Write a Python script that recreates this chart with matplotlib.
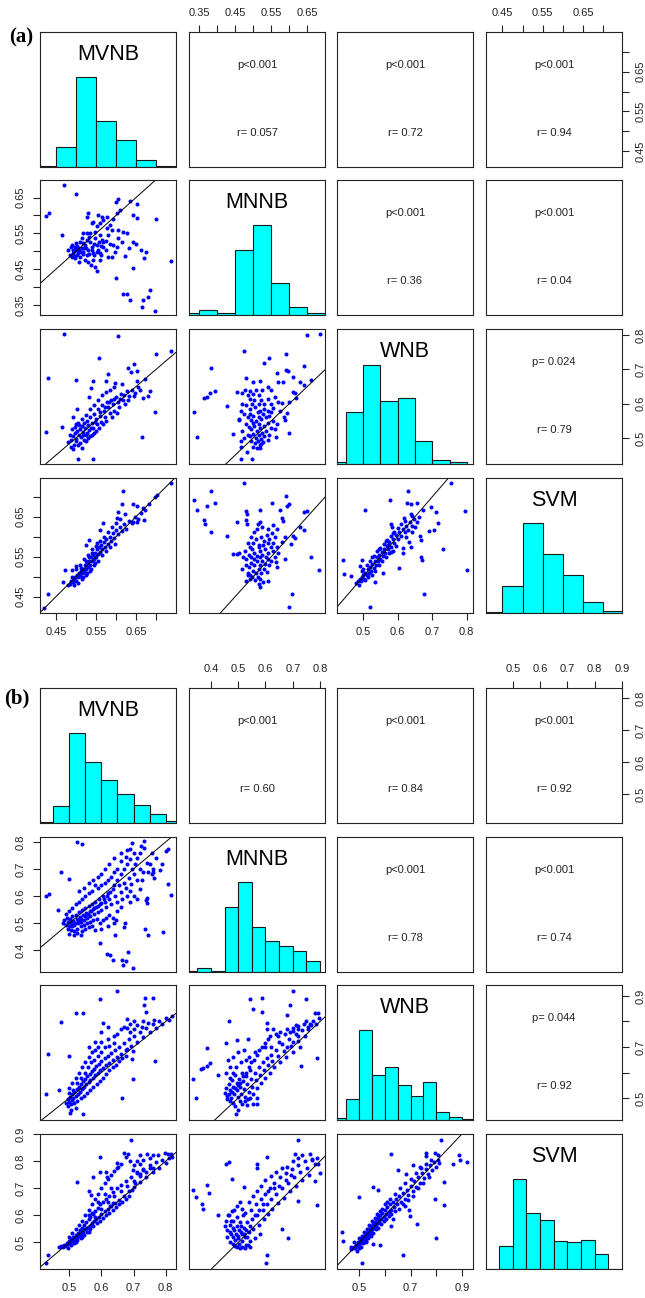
import matplotlib
matplotlib.use('Agg')
import matplotlib.pyplot as plt
import numpy as np

plt.rcParams['font.family'] = ['Liberation Sans', 'DejaVu Sans']

names = ['MVNB', 'MNNB', 'WNB', 'SVM']

#
# panel (a) data
#
a_lims = [(0.41, 0.75), (0.322, 0.699), (0.424, 0.818), (0.409, 0.747)]
a_ticks = [[0.45, 0.50, 0.55, 0.60, 0.65, 0.70],
           [0.35, 0.40, 0.45, 0.50, 0.55, 0.60, 0.65],
           [0.5, 0.6, 0.7, 0.8],
           [0.45, 0.50, 0.55, 0.60, 0.65, 0.70]]
a_ticklabels = [['0.45', '', '0.55', '', '0.65', ''],
                ['0.35', '', '0.45', '', '0.55', '', '0.65'],
                ['0.5', '0.6', '0.7', '0.8'],
                ['0.45', '', '0.55', '', '0.65', '']]

a_mvnb_edges = [0.40, 0.45, 0.50, 0.55, 0.60, 0.65, 0.70, 0.75]
a_mvnb_counts = [2, 28, 125, 64, 38, 10, 2]
a_mnnb_edges = [0.30, 0.35, 0.40, 0.45, 0.50, 0.55, 0.60, 0.65, 0.70]
a_mnnb_counts = [2, 6, 2, 86, 120, 42, 10, 2]
a_wnb_edges = [0.40, 0.45, 0.50, 0.55, 0.60, 0.65, 0.70, 0.75, 0.80]
a_wnb_counts = [2, 67, 127, 81, 84, 29, 5, 3]
a_svm_edges = [0.40, 0.45, 0.50, 0.55, 0.60, 0.65, 0.70, 0.75]
a_svm_counts = [1, 33, 110, 72, 47, 14, 3]
a_hist_head = [1.5, 1.5, 1.36, 1.5]

a_p = {(0, 1): 'p<0.001', (0, 2): 'p<0.001', (0, 3): 'p<0.001',
       (1, 2): 'p<0.001', (1, 3): 'p<0.001', (2, 3): 'p= 0.024'}
a_r = {(0, 1): 'r= 0.057', (0, 2): 'r= 0.72', (0, 3): 'r= 0.94',
       (1, 2): 'r= 0.36', (1, 3): 'r= 0.04', (2, 3): 'r= 0.79'}

# x = MVNB, y = MNNB
a_mvnb_mnnb = [
    (0.471, 0.684), (0.499, 0.659), (0.424, 0.599), (0.432, 0.608), (0.464, 0.545), (0.531, 0.608),
    (0.606, 0.647), (0.599, 0.638), (0.635, 0.641), (0.652, 0.631), (0.602, 0.607), (0.610, 0.615),
    (0.643, 0.601), (0.652, 0.592), (0.700, 0.590), (0.737, 0.474), (0.600, 0.425), (0.618, 0.381),
    (0.628, 0.381), (0.635, 0.365), (0.685, 0.393), (0.681, 0.371), (0.668, 0.363), (0.664, 0.343),
    (0.698, 0.334), (0.642, 0.453), (0.670, 0.482), (0.662, 0.504), (0.674, 0.499), (0.643, 0.527),
    (0.650, 0.520), (0.627, 0.550), (0.618, 0.553), (0.633, 0.508), (0.623, 0.487), (0.606, 0.559),
    (0.606, 0.536), (0.614, 0.527), (0.593, 0.518), (0.602, 0.511), (0.598, 0.499), (0.581, 0.483),
    (0.589, 0.483), (0.560, 0.476), (0.562, 0.490), (0.574, 0.504), (0.568, 0.527), (0.581, 0.545),
    (0.577, 0.564), (0.560, 0.578), (0.568, 0.587), (0.577, 0.596), (0.543, 0.582), (0.552, 0.570),
    (0.481, 0.504), (0.487, 0.511), (0.492, 0.494), (0.495, 0.487), (0.500, 0.504), (0.503, 0.515),
    (0.506, 0.494), (0.510, 0.483), (0.514, 0.508), (0.518, 0.499), (0.523, 0.518), (0.527, 0.490),
    (0.531, 0.504), (0.535, 0.527), (0.539, 0.513), (0.543, 0.494), (0.548, 0.536), (0.552, 0.518),
    (0.556, 0.504), (0.560, 0.545), (0.564, 0.531), (0.514, 0.536), (0.518, 0.552), (0.528, 0.550),
    (0.533, 0.541), (0.510, 0.527), (0.500, 0.522), (0.489, 0.518), (0.485, 0.490), (0.498, 0.481),
    (0.508, 0.471), (0.531, 0.471), (0.537, 0.462), (0.548, 0.457), (0.552, 0.444), (0.543, 0.476),
    (0.523, 0.476), (0.560, 0.494), (0.568, 0.513), (0.548, 0.555), (0.539, 0.578), (0.528, 0.596),
    (0.556, 0.601), (0.564, 0.596), (0.593, 0.589), (0.585, 0.573), (0.589, 0.559), (0.489, 0.483),
    (0.493, 0.504), (0.503, 0.490), (0.517, 0.493), (0.525, 0.508), (0.533, 0.493), (0.540, 0.504),
    (0.552, 0.499), (0.563, 0.515), (0.558, 0.527), (0.527, 0.531), (0.518, 0.522), (0.508, 0.504),
    (0.495, 0.500), (0.505, 0.508), (0.512, 0.498), (0.498, 0.512), (0.520, 0.510), (0.545, 0.520),
    (0.535, 0.550), (0.575, 0.530), (0.585, 0.520), (0.545, 0.490),
]
# x = MVNB, y = WNB
a_mvnb_wnb = [
    (0.471, 0.803), (0.604, 0.799), (0.558, 0.732), (0.700, 0.744), (0.737, 0.755), (0.431, 0.676),
    (0.499, 0.669), (0.424, 0.516), (0.466, 0.531), (0.581, 0.687), (0.542, 0.667), (0.575, 0.667),
    (0.598, 0.659), (0.614, 0.657), (0.631, 0.703), (0.637, 0.692), (0.645, 0.716), (0.652, 0.696),
    (0.653, 0.666), (0.672, 0.672), (0.685, 0.638), (0.681, 0.622), (0.668, 0.616), (0.698, 0.577),
    (0.664, 0.504), (0.504, 0.439), (0.542, 0.438), (0.487, 0.473), (0.492, 0.467), (0.502, 0.584),
    (0.493, 0.560), (0.537, 0.645), (0.533, 0.620),
    (0.492, 0.505), (0.497, 0.515), (0.500, 0.498), (0.503, 0.520), (0.507, 0.510), (0.510, 0.527),
    (0.512, 0.502), (0.515, 0.535), (0.518, 0.518), (0.520, 0.545), (0.523, 0.528), (0.525, 0.510),
    (0.528, 0.550), (0.530, 0.537), (0.533, 0.522), (0.536, 0.560), (0.540, 0.545), (0.543, 0.530),
    (0.546, 0.570), (0.550, 0.555), (0.553, 0.540), (0.556, 0.585), (0.560, 0.565), (0.563, 0.548),
    (0.566, 0.595), (0.570, 0.578), (0.573, 0.560), (0.577, 0.605), (0.580, 0.590), (0.584, 0.572),
    (0.588, 0.612), (0.592, 0.598), (0.596, 0.580), (0.600, 0.620), (0.604, 0.605), (0.608, 0.590),
    (0.612, 0.628), (0.617, 0.612), (0.622, 0.598), (0.627, 0.636), (0.632, 0.622), (0.640, 0.640),
    (0.648, 0.630), (0.655, 0.648), (0.660, 0.640), (0.500, 0.540), (0.505, 0.545), (0.515, 0.555),
    (0.525, 0.568), (0.535, 0.585), (0.545, 0.595), (0.555, 0.610), (0.565, 0.625), (0.575, 0.635),
    (0.585, 0.640), (0.595, 0.650), (0.500, 0.490), (0.510, 0.485), (0.520, 0.495), (0.530, 0.500),
    (0.540, 0.510), (0.550, 0.520), (0.487, 0.495), (0.495, 0.480), (0.505, 0.478), (0.515, 0.470),
    (0.525, 0.490), (0.535, 0.505), (0.545, 0.515), (0.558, 0.530), (0.568, 0.540), (0.480, 0.487),
    (0.485, 0.510), (0.490, 0.525), (0.498, 0.532), (0.508, 0.538), (0.518, 0.508), (0.528, 0.515),
    (0.538, 0.530), (0.548, 0.548), (0.560, 0.575), (0.572, 0.590), (0.582, 0.605), (0.595, 0.615),
    (0.610, 0.615), (0.620, 0.625), (0.630, 0.610), (0.645, 0.622), (0.602, 0.572), (0.590, 0.560),
    (0.575, 0.550),
]
# x = MNNB, y = WNB
a_mnnb_wnb = [
    (0.648, 0.801), (0.684, 0.804), (0.474, 0.755), (0.590, 0.745), (0.544, 0.732), (0.530, 0.718),
    (0.641, 0.710), (0.383, 0.705), (0.336, 0.577), (0.343, 0.502), (0.363, 0.616), (0.372, 0.620),
    (0.381, 0.632), (0.393, 0.638), (0.426, 0.593), (0.454, 0.635), (0.481, 0.674), (0.500, 0.664),
    (0.518, 0.666), (0.567, 0.689), (0.590, 0.699), (0.597, 0.694), (0.609, 0.677), (0.583, 0.664),
    (0.569, 0.664), (0.630, 0.664), (0.641, 0.654), (0.611, 0.635), (0.616, 0.632), (0.600, 0.606),
    (0.659, 0.669), (0.618, 0.618), (0.580, 0.601), (0.594, 0.572), (0.584, 0.562), (0.589, 0.552),
    (0.600, 0.515), (0.563, 0.503), (0.445, 0.513), (0.465, 0.492), (0.465, 0.473), (0.484, 0.460),
    (0.496, 0.438), (0.465, 0.438), (0.519, 0.472), (0.521, 0.481), (0.461, 0.552),
    (0.470, 0.630), (0.478, 0.640), (0.485, 0.625), (0.492, 0.636), (0.500, 0.628), (0.508, 0.640),
    (0.515, 0.625), (0.522, 0.610), (0.530, 0.600), (0.540, 0.615), (0.548, 0.600), (0.556, 0.588),
    (0.470, 0.600), (0.480, 0.595), (0.490, 0.585), (0.498, 0.600), (0.505, 0.590), (0.512, 0.575),
    (0.520, 0.580), (0.528, 0.570), (0.535, 0.560), (0.545, 0.565), (0.555, 0.550), (0.565, 0.540),
    (0.475, 0.570), (0.485, 0.560), (0.493, 0.552), (0.500, 0.565), (0.508, 0.550), (0.515, 0.540),
    (0.522, 0.555), (0.530, 0.535), (0.540, 0.545), (0.550, 0.530), (0.560, 0.525), (0.480, 0.540),
    (0.488, 0.532), (0.495, 0.525), (0.503, 0.535), (0.510, 0.520), (0.518, 0.528), (0.525, 0.515),
    (0.535, 0.520), (0.545, 0.510), (0.485, 0.510), (0.492, 0.505), (0.500, 0.512), (0.507, 0.500),
    (0.515, 0.508), (0.522, 0.498), (0.530, 0.505), (0.540, 0.495), (0.495, 0.490), (0.505, 0.485),
    (0.512, 0.492), (0.520, 0.480), (0.528, 0.488), (0.500, 0.475), (0.510, 0.470), (0.465, 0.580),
    (0.460, 0.555), (0.470, 0.520), (0.475, 0.500), (0.490, 0.615), (0.502, 0.612), (0.515, 0.600),
    (0.525, 0.640), (0.540, 0.650), (0.550, 0.640), (0.560, 0.620), (0.570, 0.605), (0.575, 0.580),
    (0.500, 0.545), (0.490, 0.570), (0.515, 0.560), (0.530, 0.585), (0.540, 0.580), (0.550, 0.575),
]
# x = MVNB, y = SVM
a_mvnb_svm = [
    (0.737, 0.735), (0.431, 0.456), (0.421, 0.421), (0.618, 0.715), (0.467, 0.487), (0.473, 0.517),
    (0.489, 0.517), (0.500, 0.527), (0.525, 0.579), (0.533, 0.592), (0.560, 0.617), (0.567, 0.635),
    (0.606, 0.662), (0.623, 0.658), (0.602, 0.646), (0.614, 0.683), (0.643, 0.681), (0.652, 0.678),
    (0.668, 0.673), (0.673, 0.667), (0.683, 0.683), (0.698, 0.700), (0.702, 0.704), (0.670, 0.643),
    (0.597, 0.583), (0.643, 0.637), (0.652, 0.637),
    (0.480, 0.478), (0.485, 0.482), (0.488, 0.490), (0.492, 0.486), (0.495, 0.495), (0.498, 0.500),
    (0.500, 0.490), (0.503, 0.505), (0.505, 0.498), (0.508, 0.510), (0.510, 0.502), (0.513, 0.515),
    (0.515, 0.508), (0.518, 0.520), (0.520, 0.512), (0.522, 0.528), (0.525, 0.518), (0.528, 0.535),
    (0.530, 0.525), (0.533, 0.540), (0.535, 0.530), (0.538, 0.548), (0.540, 0.538), (0.543, 0.555),
    (0.545, 0.545), (0.548, 0.560), (0.550, 0.550), (0.553, 0.568), (0.555, 0.556), (0.558, 0.575),
    (0.560, 0.562), (0.563, 0.580), (0.566, 0.570), (0.570, 0.588), (0.573, 0.575), (0.576, 0.595),
    (0.580, 0.582), (0.584, 0.600), (0.588, 0.590), (0.592, 0.610), (0.596, 0.598), (0.600, 0.618),
    (0.605, 0.606), (0.610, 0.625), (0.615, 0.615), (0.620, 0.632), (0.625, 0.620), (0.632, 0.640),
    (0.640, 0.635), (0.648, 0.650), (0.655, 0.645), (0.662, 0.660), (0.500, 0.520), (0.510, 0.530),
    (0.520, 0.545), (0.530, 0.555), (0.540, 0.568), (0.550, 0.578), (0.560, 0.590), (0.570, 0.600),
    (0.580, 0.612), (0.590, 0.625), (0.600, 0.635), (0.610, 0.645), (0.495, 0.478), (0.505, 0.485),
    (0.515, 0.495), (0.525, 0.505), (0.535, 0.515), (0.545, 0.530), (0.555, 0.540), (0.565, 0.555),
    (0.575, 0.565), (0.585, 0.575), (0.518, 0.500), (0.528, 0.510), (0.538, 0.520), (0.548, 0.535),
    (0.490, 0.500), (0.512, 0.522), (0.532, 0.548), (0.552, 0.585), (0.540, 0.560), (0.525, 0.540),
]
# x = MNNB, y = SVM
a_mnnb_svm = [
    (0.335, 0.693), (0.343, 0.668), (0.382, 0.715), (0.371, 0.678), (0.394, 0.685), (0.363, 0.643),
    (0.366, 0.631), (0.382, 0.612), (0.426, 0.602), (0.474, 0.735), (0.454, 0.636), (0.481, 0.665),
    (0.483, 0.657), (0.481, 0.642), (0.483, 0.632), (0.590, 0.702), (0.594, 0.677), (0.600, 0.681),
    (0.551, 0.685), (0.520, 0.667), (0.520, 0.636), (0.512, 0.631), (0.574, 0.667), (0.583, 0.639),
    (0.581, 0.646), (0.641, 0.662), (0.648, 0.665), (0.630, 0.625), (0.641, 0.617), (0.611, 0.602),
    (0.616, 0.597), (0.606, 0.583), (0.581, 0.587), (0.588, 0.600), (0.659, 0.550), (0.683, 0.517),
    (0.608, 0.456), (0.600, 0.423), (0.567, 0.523), (0.563, 0.537), (0.588, 0.544), (0.445, 0.557),
    (0.454, 0.557), (0.461, 0.558), (0.479, 0.490), (0.486, 0.504), (0.528, 0.487), (0.542, 0.490),
    (0.519, 0.475), (0.517, 0.482),
    (0.472, 0.550), (0.480, 0.545), (0.488, 0.555), (0.495, 0.548), (0.503, 0.560), (0.510, 0.552),
    (0.518, 0.565), (0.525, 0.555), (0.532, 0.570), (0.540, 0.560), (0.548, 0.575), (0.555, 0.565),
    (0.480, 0.530), (0.488, 0.525), (0.495, 0.535), (0.502, 0.528), (0.510, 0.538), (0.518, 0.530),
    (0.525, 0.540), (0.533, 0.532), (0.542, 0.545), (0.550, 0.540), (0.485, 0.510), (0.492, 0.505),
    (0.500, 0.515), (0.508, 0.508), (0.515, 0.518), (0.522, 0.510), (0.530, 0.520), (0.538, 0.512),
    (0.490, 0.495), (0.498, 0.500), (0.505, 0.492), (0.512, 0.498), (0.520, 0.495), (0.500, 0.585),
    (0.508, 0.595), (0.515, 0.580), (0.522, 0.600), (0.530, 0.590), (0.538, 0.605), (0.545, 0.595),
    (0.552, 0.610), (0.560, 0.600), (0.495, 0.600), (0.502, 0.612), (0.510, 0.620), (0.490, 0.575),
    (0.498, 0.570), (0.515, 0.575), (0.528, 0.580), (0.540, 0.585), (0.555, 0.585), (0.565, 0.575),
    (0.570, 0.560), (0.560, 0.550), (0.545, 0.530), (0.478, 0.565), (0.485, 0.585), (0.470, 0.520),
    (0.503, 0.545), (0.520, 0.548), (0.535, 0.550), (0.525, 0.625), (0.540, 0.620), (0.555, 0.630),
    (0.565, 0.620),
]
# x = WNB, y = SVM
a_wnb_svm = [
    (0.754, 0.735), (0.631, 0.715), (0.578, 0.693), (0.505, 0.668), (0.795, 0.664), (0.801, 0.517),
    (0.730, 0.569), (0.675, 0.456), (0.519, 0.423), (0.441, 0.542), (0.443, 0.507), (0.464, 0.502),
    (0.605, 0.521), (0.557, 0.508), (0.533, 0.487), (0.667, 0.550), (0.669, 0.542), (0.627, 0.685),
    (0.639, 0.681), (0.657, 0.685), (0.674, 0.667), (0.695, 0.675), (0.712, 0.661), (0.718, 0.635),
    (0.690, 0.615), (0.704, 0.617), (0.665, 0.602), (0.666, 0.593), (0.639, 0.658), (0.642, 0.652),
    (0.617, 0.648), (0.581, 0.632), (0.584, 0.625), (0.634, 0.586), (0.637, 0.573), (0.615, 0.571),
    (0.615, 0.558), (0.572, 0.579), (0.581, 0.562), (0.495, 0.542), (0.490, 0.527),
    (0.480, 0.485), (0.485, 0.490), (0.490, 0.495), (0.493, 0.488), (0.497, 0.500), (0.500, 0.505),
    (0.503, 0.495), (0.506, 0.510), (0.510, 0.503), (0.513, 0.518), (0.516, 0.510), (0.520, 0.525),
    (0.523, 0.515), (0.526, 0.532), (0.530, 0.522), (0.533, 0.540), (0.536, 0.530), (0.540, 0.548),
    (0.543, 0.538), (0.546, 0.555), (0.550, 0.545), (0.553, 0.562), (0.557, 0.552), (0.560, 0.570),
    (0.564, 0.560), (0.568, 0.578), (0.572, 0.568), (0.576, 0.586), (0.580, 0.575), (0.585, 0.595),
    (0.590, 0.585), (0.595, 0.605), (0.600, 0.595), (0.605, 0.612), (0.610, 0.603), (0.615, 0.620),
    (0.620, 0.612), (0.625, 0.628), (0.630, 0.618), (0.636, 0.636), (0.642, 0.628), (0.648, 0.645),
    (0.655, 0.638), (0.662, 0.650), (0.500, 0.520), (0.510, 0.530), (0.520, 0.540), (0.530, 0.552),
    (0.540, 0.563), (0.550, 0.572), (0.560, 0.582), (0.570, 0.592), (0.580, 0.602), (0.590, 0.612),
    (0.600, 0.622), (0.610, 0.632), (0.620, 0.640), (0.495, 0.515), (0.515, 0.498), (0.525, 0.505),
    (0.535, 0.515), (0.545, 0.528), (0.555, 0.538), (0.565, 0.548), (0.575, 0.558), (0.585, 0.565),
    (0.595, 0.578), (0.505, 0.492), (0.488, 0.480), (0.525, 0.548), (0.545, 0.570), (0.565, 0.590),
    (0.585, 0.610), (0.625, 0.600), (0.640, 0.612), (0.650, 0.625),
]

#
# panel (b) data
#
b_lims = [(0.409, 0.832), (0.320, 0.818), (0.414, 0.943), (0.402, 0.900)]
b_ticks = [[0.5, 0.6, 0.7, 0.8],
           [0.4, 0.5, 0.6, 0.7, 0.8],
           [0.5, 0.6, 0.7, 0.8, 0.9],
           [0.5, 0.6, 0.7, 0.8, 0.9]]
b_ticklabels = [['0.5', '0.6', '0.7', '0.8'],
                ['0.4', '0.5', '0.6', '0.7', '0.8'],
                ['0.5', '', '0.7', '', '0.9'],
                ['0.5', '0.6', '0.7', '0.8', '0.9']]

b_mvnb_edges = [0.40, 0.45, 0.50, 0.55, 0.60, 0.65, 0.70, 0.75, 0.80, 0.85]
b_mvnb_counts = [2, 28, 150, 102, 72, 48, 30, 15, 3]
b_mnnb_edges = [0.30, 0.35, 0.40, 0.45, 0.50, 0.55, 0.60, 0.65, 0.70, 0.75, 0.80]
b_mnnb_counts = [2, 6, 2, 99, 137, 69, 47, 40, 32, 16]
b_wnb_edges = [0.40, 0.45, 0.50, 0.55, 0.60, 0.65, 0.70, 0.75, 0.80, 0.85, 0.90, 0.95]
b_wnb_counts = [3, 29, 127, 63, 75, 49, 34, 53, 11, 4, 1]
b_svm_edges = [0.40, 0.45, 0.50, 0.55, 0.60, 0.65, 0.70, 0.75, 0.80, 0.85, 0.90]
b_svm_counts = [0, 33, 128, 80, 69, 40, 39, 41, 21, 0]
b_hist_head = [1.5, 1.5, 1.5, 1.5]

b_p = {(0, 1): 'p<0.001', (0, 2): 'p<0.001', (0, 3): 'p<0.001',
       (1, 2): 'p<0.001', (1, 3): 'p<0.001', (2, 3): 'p= 0.044'}
b_r = {(0, 1): 'r= 0.60', (0, 2): 'r= 0.84', (0, 3): 'r= 0.92',
       (1, 2): 'r= 0.78', (1, 3): 'r= 0.74', (2, 3): 'r= 0.92'}

# x = MVNB, y = MNNB
b_mvnb_mnnb = [
    (0.523, 0.798), (0.541, 0.791), (0.427, 0.599), (0.437, 0.609), (0.473, 0.688), (0.500, 0.663),
    (0.466, 0.549), (0.596, 0.427), (0.616, 0.385), (0.627, 0.384), (0.635, 0.365), (0.668, 0.344),
    (0.676, 0.360), (0.683, 0.394), (0.663, 0.363), (0.697, 0.335), (0.642, 0.456), (0.673, 0.502),
    (0.670, 0.487), (0.736, 0.477), (0.746, 0.456), (0.793, 0.468), (0.815, 0.605), (0.808, 0.646),
    (0.801, 0.766), (0.806, 0.772), (0.788, 0.717), (0.783, 0.698), (0.732, 0.804), (0.722, 0.785),
    (0.731, 0.776), (0.694, 0.795), (0.689, 0.773), (0.756, 0.760), (0.741, 0.723), (0.762, 0.688),
    (0.764, 0.667), (0.756, 0.680), (0.710, 0.589), (0.720, 0.626), (0.725, 0.661), (0.741, 0.593),
    (0.738, 0.586), (0.741, 0.574),
    (0.480, 0.500), (0.485, 0.510), (0.490, 0.495), (0.493, 0.520), (0.497, 0.505), (0.500, 0.490),
    (0.503, 0.515), (0.506, 0.500), (0.510, 0.525), (0.513, 0.508), (0.516, 0.492), (0.520, 0.530),
    (0.523, 0.515), (0.526, 0.500), (0.530, 0.540), (0.533, 0.522), (0.536, 0.505), (0.540, 0.548),
    (0.543, 0.530), (0.546, 0.512), (0.550, 0.555), (0.553, 0.538), (0.556, 0.520), (0.560, 0.562),
    (0.563, 0.545), (0.566, 0.528), (0.570, 0.570), (0.573, 0.552), (0.577, 0.535), (0.580, 0.580),
    (0.584, 0.560), (0.588, 0.542), (0.592, 0.590), (0.596, 0.570), (0.600, 0.550), (0.605, 0.600),
    (0.610, 0.580), (0.615, 0.560), (0.620, 0.610), (0.625, 0.590), (0.630, 0.570), (0.636, 0.625),
    (0.642, 0.600), (0.648, 0.580), (0.655, 0.640), (0.662, 0.615), (0.670, 0.650), (0.678, 0.630),
    (0.685, 0.665), (0.692, 0.645), (0.700, 0.680), (0.710, 0.660), (0.720, 0.700), (0.730, 0.690),
    (0.705, 0.720), (0.690, 0.735), (0.675, 0.745), (0.660, 0.730), (0.650, 0.700), (0.640, 0.690),
    (0.630, 0.670), (0.620, 0.660), (0.610, 0.650), (0.600, 0.640), (0.590, 0.630), (0.580, 0.640),
    (0.570, 0.620), (0.560, 0.610), (0.550, 0.600), (0.540, 0.590), (0.530, 0.580), (0.520, 0.570),
    (0.510, 0.555), (0.500, 0.545), (0.490, 0.535), (0.495, 0.480), (0.505, 0.475), (0.515, 0.470),
    (0.525, 0.480), (0.535, 0.490), (0.545, 0.495), (0.555, 0.500), (0.565, 0.505), (0.575, 0.510),
    (0.585, 0.515), (0.595, 0.500), (0.605, 0.510), (0.615, 0.520), (0.625, 0.530), (0.635, 0.520),
    (0.645, 0.510), (0.540, 0.470), (0.550, 0.480), (0.560, 0.485), (0.570, 0.490), (0.580, 0.475),
    (0.600, 0.480), (0.620, 0.490), (0.640, 0.500), (0.525, 0.465), (0.535, 0.455), (0.515, 0.455),
    (0.498, 0.462), (0.508, 0.488), (0.518, 0.500), (0.528, 0.510), (0.538, 0.515), (0.548, 0.525),
    (0.558, 0.535), (0.568, 0.545), (0.578, 0.555), (0.588, 0.565), (0.598, 0.575), (0.608, 0.590),
    (0.618, 0.600), (0.628, 0.615), (0.638, 0.640), (0.650, 0.660), (0.660, 0.680), (0.670, 0.700),
    (0.680, 0.720), (0.695, 0.700), (0.710, 0.740), (0.720, 0.760), (0.700, 0.760), (0.680, 0.770),
    (0.660, 0.760), (0.640, 0.740), (0.625, 0.720), (0.610, 0.700), (0.600, 0.680), (0.590, 0.670),
    (0.575, 0.660), (0.560, 0.650), (0.545, 0.630), (0.530, 0.620), (0.700, 0.600), (0.690, 0.580),
    (0.680, 0.600), (0.665, 0.590), (0.660, 0.560), (0.650, 0.545), (0.690, 0.620), (0.745, 0.690),
    (0.760, 0.700), (0.770, 0.740), (0.750, 0.720),
]
# x = MVNB, y = WNB
b_mvnb_wnb = [
    (0.647, 0.921), (0.596, 0.888), (0.521, 0.833), (0.544, 0.833), (0.473, 0.798), (0.433, 0.672),
    (0.500, 0.663), (0.427, 0.515), (0.468, 0.530), (0.736, 0.891), (0.762, 0.891), (0.731, 0.866),
    (0.738, 0.836), (0.606, 0.795), (0.663, 0.500), (0.697, 0.575), (0.767, 0.646), (0.502, 0.440),
    (0.542, 0.437), (0.694, 0.653), (0.699, 0.685), (0.679, 0.691),
    (0.490, 0.480), (0.495, 0.495), (0.500, 0.485), (0.503, 0.505), (0.507, 0.492), (0.510, 0.515),
    (0.513, 0.500), (0.516, 0.525), (0.520, 0.508), (0.523, 0.535), (0.526, 0.515), (0.530, 0.545),
    (0.533, 0.525), (0.536, 0.555), (0.540, 0.535), (0.543, 0.565), (0.546, 0.545), (0.550, 0.575),
    (0.553, 0.555), (0.556, 0.585), (0.560, 0.562), (0.563, 0.595), (0.566, 0.572), (0.570, 0.605),
    (0.573, 0.580), (0.577, 0.615), (0.580, 0.590), (0.584, 0.625), (0.588, 0.598), (0.592, 0.635),
    (0.596, 0.608), (0.600, 0.645), (0.605, 0.618), (0.610, 0.655), (0.615, 0.628), (0.620, 0.665),
    (0.625, 0.638), (0.630, 0.675), (0.636, 0.648), (0.642, 0.690), (0.648, 0.660), (0.655, 0.700),
    (0.662, 0.672), (0.670, 0.715), (0.678, 0.690), (0.685, 0.730), (0.692, 0.705), (0.700, 0.745),
    (0.710, 0.720), (0.720, 0.760), (0.730, 0.740), (0.740, 0.775), (0.750, 0.760), (0.760, 0.790),
    (0.770, 0.775), (0.780, 0.800), (0.790, 0.790), (0.800, 0.815), (0.810, 0.805), (0.820, 0.820),
    (0.660, 0.770), (0.670, 0.780), (0.680, 0.775), (0.690, 0.790), (0.700, 0.770), (0.710, 0.785),
    (0.650, 0.750), (0.640, 0.745), (0.620, 0.730), (0.600, 0.720), (0.590, 0.700), (0.580, 0.690),
    (0.570, 0.680), (0.560, 0.660), (0.550, 0.640), (0.540, 0.620), (0.530, 0.600), (0.520, 0.580),
    (0.510, 0.560), (0.500, 0.540), (0.495, 0.470), (0.505, 0.475), (0.515, 0.480), (0.525, 0.490),
    (0.535, 0.500), (0.545, 0.510), (0.555, 0.520), (0.565, 0.530), (0.575, 0.545), (0.585, 0.555),
    (0.595, 0.565), (0.605, 0.580), (0.615, 0.595), (0.625, 0.610), (0.635, 0.620), (0.645, 0.630),
    (0.655, 0.645), (0.665, 0.655), (0.675, 0.665), (0.505, 0.455), (0.520, 0.462), (0.500, 0.520),
    (0.512, 0.530), (0.525, 0.560), (0.538, 0.580), (0.548, 0.600), (0.558, 0.620), (0.568, 0.640),
    (0.578, 0.650), (0.588, 0.665), (0.600, 0.680), (0.612, 0.700), (0.625, 0.705), (0.640, 0.715),
    (0.690, 0.760), (0.730, 0.800), (0.725, 0.780), (0.745, 0.795), (0.765, 0.805), (0.700, 0.800),
    (0.680, 0.810), (0.620, 0.780), (0.580, 0.720), (0.560, 0.700), (0.600, 0.760),
]
# x = MNNB, y = WNB
b_mnnb_wnb = [
    (0.543, 0.888), (0.586, 0.891), (0.700, 0.921), (0.690, 0.866), (0.680, 0.827), (0.749, 0.888),
    (0.468, 0.801), (0.586, 0.836), (0.336, 0.575), (0.346, 0.500), (0.364, 0.614), (0.373, 0.618),
    (0.387, 0.627), (0.397, 0.636), (0.385, 0.698), (0.427, 0.591), (0.456, 0.715), (0.497, 0.728),
    (0.537, 0.730), (0.553, 0.849), (0.790, 0.655), (0.730, 0.624), (0.782, 0.833), (0.794, 0.833),
    (0.605, 0.795), (0.605, 0.771), (0.629, 0.769), (0.647, 0.743), (0.678, 0.769), (0.702, 0.763),
    (0.712, 0.788), (0.720, 0.782), (0.763, 0.792), (0.757, 0.780), (0.492, 0.436), (0.498, 0.453),
    (0.534, 0.472), (0.556, 0.478), (0.568, 0.478), (0.570, 0.500),
    (0.450, 0.520), (0.455, 0.540), (0.460, 0.510), (0.465, 0.555), (0.470, 0.530), (0.475, 0.500),
    (0.478, 0.570), (0.482, 0.545), (0.486, 0.515), (0.490, 0.590), (0.494, 0.560), (0.497, 0.530),
    (0.500, 0.505), (0.503, 0.575), (0.507, 0.545), (0.510, 0.515), (0.514, 0.600), (0.518, 0.565),
    (0.522, 0.535), (0.526, 0.505), (0.530, 0.585), (0.534, 0.555), (0.538, 0.525), (0.542, 0.610),
    (0.546, 0.575), (0.550, 0.545), (0.555, 0.515), (0.560, 0.600), (0.565, 0.570), (0.570, 0.540),
    (0.575, 0.620), (0.580, 0.590), (0.585, 0.560), (0.590, 0.640), (0.595, 0.610), (0.600, 0.580),
    (0.605, 0.655), (0.610, 0.630), (0.615, 0.600), (0.620, 0.670), (0.625, 0.645), (0.630, 0.620),
    (0.638, 0.690), (0.645, 0.665), (0.652, 0.640), (0.660, 0.710), (0.668, 0.685), (0.675, 0.660),
    (0.685, 0.730), (0.692, 0.705), (0.700, 0.680), (0.710, 0.750), (0.718, 0.725), (0.725, 0.700),
    (0.735, 0.765), (0.745, 0.745), (0.755, 0.770), (0.765, 0.785), (0.775, 0.800), (0.785, 0.790),
    (0.795, 0.815), (0.470, 0.490), (0.480, 0.480), (0.490, 0.470), (0.505, 0.488), (0.515, 0.478),
    (0.525, 0.490), (0.535, 0.495), (0.545, 0.500), (0.460, 0.495), (0.468, 0.515), (0.478, 0.525),
    (0.488, 0.540), (0.498, 0.550), (0.508, 0.560), (0.518, 0.585), (0.528, 0.600), (0.538, 0.620),
    (0.548, 0.640), (0.558, 0.650), (0.568, 0.670), (0.578, 0.690), (0.588, 0.700), (0.598, 0.715),
    (0.608, 0.730), (0.618, 0.745), (0.640, 0.750), (0.655, 0.760), (0.670, 0.750), (0.690, 0.760),
    (0.700, 0.775), (0.720, 0.770), (0.740, 0.790), (0.750, 0.800), (0.540, 0.660), (0.560, 0.680),
    (0.600, 0.700), (0.620, 0.700), (0.650, 0.720), (0.680, 0.700), (0.700, 0.720), (0.720, 0.745),
    (0.480, 0.600), (0.470, 0.580), (0.492, 0.620), (0.510, 0.640), (0.530, 0.650), (0.462, 0.650),
    (0.482, 0.660), (0.500, 0.680), (0.520, 0.690), (0.470, 0.620), (0.455, 0.600),
]
# x = MVNB, y = SVM
b_mvnb_svm = [
    (0.692, 0.878), (0.596, 0.815), (0.523, 0.722), (0.427, 0.425), (0.433, 0.455), (0.469, 0.485),
    (0.473, 0.487), (0.670, 0.830), (0.684, 0.827), (0.677, 0.815), (0.647, 0.793), (0.653, 0.779),
    (0.614, 0.761), (0.616, 0.742), (0.573, 0.740), (0.596, 0.761), (0.560, 0.690), (0.567, 0.676),
    (0.720, 0.821), (0.741, 0.827), (0.762, 0.821), (0.777, 0.821), (0.798, 0.830), (0.808, 0.825),
    (0.815, 0.827), (0.699, 0.767), (0.710, 0.761), (0.720, 0.752), (0.730, 0.767), (0.751, 0.773),
    (0.694, 0.694), (0.704, 0.718), (0.637, 0.645), (0.627, 0.633),
    (0.480, 0.485), (0.485, 0.492), (0.490, 0.488), (0.493, 0.498), (0.497, 0.495), (0.500, 0.505),
    (0.503, 0.500), (0.506, 0.512), (0.510, 0.505), (0.513, 0.520), (0.516, 0.512), (0.520, 0.528),
    (0.523, 0.518), (0.526, 0.535), (0.530, 0.525), (0.533, 0.545), (0.536, 0.532), (0.540, 0.555),
    (0.543, 0.540), (0.546, 0.565), (0.550, 0.548), (0.553, 0.575), (0.556, 0.555), (0.560, 0.585),
    (0.563, 0.562), (0.566, 0.595), (0.570, 0.570), (0.573, 0.605), (0.577, 0.578), (0.580, 0.615),
    (0.584, 0.585), (0.588, 0.628), (0.592, 0.595), (0.596, 0.640), (0.600, 0.605), (0.605, 0.650),
    (0.610, 0.615), (0.615, 0.660), (0.620, 0.625), (0.625, 0.672), (0.630, 0.635), (0.636, 0.685),
    (0.642, 0.645), (0.648, 0.700), (0.655, 0.658), (0.662, 0.712), (0.670, 0.672), (0.678, 0.725),
    (0.685, 0.688), (0.692, 0.740), (0.700, 0.705), (0.710, 0.755), (0.720, 0.722), (0.730, 0.770),
    (0.740, 0.740), (0.750, 0.785), (0.760, 0.758), (0.770, 0.795), (0.780, 0.775), (0.790, 0.805),
    (0.800, 0.792), (0.810, 0.810), (0.820, 0.815), (0.500, 0.520), (0.510, 0.535), (0.520, 0.550),
    (0.530, 0.565), (0.540, 0.580), (0.550, 0.600), (0.560, 0.620), (0.570, 0.640), (0.580, 0.660),
    (0.590, 0.680), (0.600, 0.700), (0.610, 0.720), (0.620, 0.735), (0.630, 0.750), (0.640, 0.765),
    (0.650, 0.775), (0.660, 0.790), (0.690, 0.800), (0.710, 0.800), (0.730, 0.805), (0.750, 0.810),
    (0.700, 0.785), (0.720, 0.790), (0.495, 0.480), (0.505, 0.490), (0.515, 0.498), (0.525, 0.508),
    (0.535, 0.518), (0.545, 0.528), (0.555, 0.538), (0.565, 0.548), (0.575, 0.560), (0.585, 0.570),
    (0.595, 0.580), (0.605, 0.590), (0.615, 0.600), (0.625, 0.610), (0.635, 0.620), (0.645, 0.630),
    (0.655, 0.640), (0.665, 0.650), (0.675, 0.660), (0.685, 0.670), (0.520, 0.500), (0.540, 0.520),
    (0.560, 0.540), (0.580, 0.595), (0.600, 0.625), (0.620, 0.650), (0.640, 0.670), (0.660, 0.690),
    (0.680, 0.710), (0.700, 0.725), (0.720, 0.745), (0.740, 0.760), (0.760, 0.775), (0.560, 0.600),
    (0.570, 0.610), (0.590, 0.650), (0.610, 0.680), (0.630, 0.700),
]
# x = MNNB, y = SVM
b_mnnb_svm = [
    (0.718, 0.878), (0.605, 0.815), (0.456, 0.791), (0.468, 0.797), (0.476, 0.733), (0.336, 0.694),
    (0.346, 0.667), (0.366, 0.643), (0.373, 0.624), (0.387, 0.712), (0.394, 0.684), (0.427, 0.600),
    (0.521, 0.706), (0.568, 0.788), (0.570, 0.773), (0.782, 0.728), (0.788, 0.639), (0.720, 0.652),
    (0.659, 0.548), (0.684, 0.518), (0.605, 0.455), (0.601, 0.424), (0.708, 0.827), (0.733, 0.821),
    (0.763, 0.827), (0.769, 0.809), (0.794, 0.788), (0.800, 0.757),
    (0.450, 0.560), (0.455, 0.580), (0.460, 0.545), (0.465, 0.600), (0.470, 0.565), (0.475, 0.530),
    (0.478, 0.615), (0.482, 0.580), (0.486, 0.545), (0.490, 0.510), (0.494, 0.595), (0.497, 0.560),
    (0.500, 0.525), (0.503, 0.495), (0.507, 0.575), (0.510, 0.540), (0.514, 0.505), (0.518, 0.600),
    (0.522, 0.555), (0.526, 0.520), (0.530, 0.490), (0.534, 0.575), (0.538, 0.540), (0.542, 0.505),
    (0.546, 0.620), (0.550, 0.585), (0.555, 0.550), (0.560, 0.515), (0.565, 0.640), (0.570, 0.600),
    (0.575, 0.565), (0.580, 0.530), (0.585, 0.660), (0.590, 0.620), (0.595, 0.585), (0.600, 0.680),
    (0.605, 0.640), (0.610, 0.605), (0.615, 0.700), (0.620, 0.660), (0.625, 0.625), (0.632, 0.720),
    (0.638, 0.680), (0.645, 0.645), (0.652, 0.740), (0.660, 0.700), (0.668, 0.665), (0.675, 0.755),
    (0.683, 0.720), (0.690, 0.690), (0.698, 0.770), (0.705, 0.740), (0.712, 0.710), (0.720, 0.785),
    (0.728, 0.760), (0.735, 0.730), (0.745, 0.800), (0.752, 0.775), (0.760, 0.750), (0.770, 0.805),
    (0.780, 0.790), (0.790, 0.810), (0.470, 0.500), (0.480, 0.495), (0.488, 0.488), (0.495, 0.482),
    (0.505, 0.478), (0.515, 0.485), (0.525, 0.480), (0.535, 0.490), (0.545, 0.485), (0.460, 0.520),
    (0.470, 0.540), (0.480, 0.555), (0.492, 0.530), (0.502, 0.545), (0.512, 0.560), (0.522, 0.530),
    (0.532, 0.520), (0.485, 0.620), (0.495, 0.635), (0.505, 0.650), (0.515, 0.625), (0.525, 0.610),
    (0.540, 0.650), (0.555, 0.670), (0.570, 0.690), (0.585, 0.710), (0.600, 0.730), (0.620, 0.745),
    (0.640, 0.760), (0.660, 0.775), (0.680, 0.780), (0.700, 0.800), (0.720, 0.810), (0.560, 0.600),
    (0.575, 0.620), (0.590, 0.640), (0.545, 0.560), (0.530, 0.545), (0.515, 0.530), (0.498, 0.515),
    (0.482, 0.520), (0.472, 0.580), (0.462, 0.600), (0.608, 0.690), (0.630, 0.700), (0.650, 0.710),
    (0.675, 0.730), (0.695, 0.750),
]
# x = WNB, y = SVM
b_wnb_svm = [
    (0.820, 0.878), (0.623, 0.825), (0.651, 0.769), (0.684, 0.752), (0.554, 0.704), (0.574, 0.694),
    (0.500, 0.666), (0.832, 0.722), (0.829, 0.637), (0.794, 0.661), (0.798, 0.518), (0.726, 0.569),
    (0.671, 0.455), (0.513, 0.424), (0.435, 0.540), (0.438, 0.506), (0.468, 0.485), (0.888, 0.821),
    (0.891, 0.805), (0.920, 0.797), (0.865, 0.788), (0.759, 0.830), (0.761, 0.818), (0.794, 0.830),
    (0.807, 0.824), (0.710, 0.785), (0.738, 0.779), (0.677, 0.633), (0.694, 0.621), (0.697, 0.597),
    (0.632, 0.587), (0.625, 0.561), (0.580, 0.490), (0.554, 0.494), (0.528, 0.500),
    (0.470, 0.475), (0.475, 0.480), (0.480, 0.485), (0.484, 0.478), (0.488, 0.492), (0.492, 0.488),
    (0.495, 0.500), (0.498, 0.494), (0.502, 0.505), (0.505, 0.498), (0.508, 0.512), (0.512, 0.505),
    (0.515, 0.520), (0.518, 0.512), (0.522, 0.528), (0.525, 0.518), (0.528, 0.535), (0.532, 0.525),
    (0.535, 0.545), (0.538, 0.532), (0.542, 0.552), (0.545, 0.540), (0.548, 0.560), (0.552, 0.548),
    (0.555, 0.568), (0.558, 0.555), (0.562, 0.575), (0.565, 0.562), (0.568, 0.585), (0.572, 0.570),
    (0.575, 0.592), (0.578, 0.578), (0.582, 0.600), (0.585, 0.585), (0.590, 0.610), (0.595, 0.595),
    (0.600, 0.620), (0.605, 0.605), (0.610, 0.630), (0.615, 0.612), (0.620, 0.640), (0.625, 0.620),
    (0.630, 0.650), (0.636, 0.630), (0.642, 0.660), (0.648, 0.640), (0.655, 0.670), (0.662, 0.650),
    (0.670, 0.682), (0.678, 0.662), (0.685, 0.695), (0.692, 0.675), (0.700, 0.710), (0.708, 0.690),
    (0.715, 0.725), (0.722, 0.705), (0.730, 0.740), (0.738, 0.720), (0.745, 0.755), (0.752, 0.738),
    (0.760, 0.770), (0.768, 0.752), (0.775, 0.785), (0.782, 0.768), (0.790, 0.795), (0.798, 0.780),
    (0.805, 0.805), (0.812, 0.792), (0.500, 0.515), (0.510, 0.525), (0.520, 0.540), (0.530, 0.550),
    (0.540, 0.565), (0.550, 0.578), (0.560, 0.590), (0.570, 0.605), (0.580, 0.615), (0.590, 0.625),
    (0.600, 0.640), (0.610, 0.650), (0.620, 0.660), (0.640, 0.680), (0.660, 0.700), (0.680, 0.720),
    (0.700, 0.735), (0.720, 0.755), (0.740, 0.775), (0.760, 0.790), (0.780, 0.805), (0.515, 0.498),
    (0.525, 0.505), (0.535, 0.515), (0.545, 0.525), (0.555, 0.535), (0.565, 0.548), (0.575, 0.555),
    (0.585, 0.568), (0.595, 0.578), (0.605, 0.588), (0.615, 0.598), (0.625, 0.605), (0.640, 0.615),
    (0.655, 0.625), (0.670, 0.640), (0.690, 0.655), (0.710, 0.670), (0.730, 0.700), (0.750, 0.720),
    (0.770, 0.740), (0.490, 0.470), (0.498, 0.478), (0.508, 0.485), (0.480, 0.500),
]

#
# layout in pixels of the 645x1298 canvas
#
W, H = 645.0, 1298.0
col_left = [40, 189, 337, 486]
cell_w = 136
rows_a = [32, 180, 329, 478]
rows_b = [688, 837, 985, 1134]
cell_h = 135


def draw_matrix(fig, row_top, lims, ticks, ticklabels, hists, heads, scatters, ptext, rtext):
    for i in range(4):
        for j in range(4):
            ax = fig.add_axes([col_left[j] / W, 1 - (row_top[i] + cell_h) / H,
                               cell_w / W, cell_h / H])
            for s in ax.spines.values():
                s.set_linewidth(0.8)
                s.set_color('#222222')
            ax.set_xlim(lims[j])
            ax.set_xticks([])
            ax.set_yticks([])
            if i == j:
                edges, counts = hists[i]
                ax.bar(edges[:-1], counts, width=np.diff(edges), align='edge',
                       color='#00FFFF', edgecolor='#1a1a1a', linewidth=0.8)
                ax.set_ylim(0, max(counts) * heads[i])
                ax.text(0.5, 0.835, names[i], transform=ax.transAxes, ha='center',
                        va='center', fontsize=15.5)
            elif i > j:
                pts = np.array(scatters[(i, j)])
                ax.set_ylim(lims[i])
                ax.plot(pts[:, 0], pts[:, 1], 'o', ms=2.9, mew=0, color='#0000FF')
                ax.axline((0.5, 0.5), slope=1, color='black', lw=0.7)
            else:
                ax.set_ylim(lims[i])
                ax.text(0.5, 0.755, ptext[(i, j)], transform=ax.transAxes,
                        ha='center', va='center', fontsize=8, color='#222222')
                ax.text(0.5, 0.25, rtext[(i, j)], transform=ax.transAxes,
                        ha='center', va='center', fontsize=8, color='#222222')

            if i == 0 and j % 2 == 1:
                ax.xaxis.set_ticks_position('top')
                ax.set_xticks(ticks[j])
                ax.set_xticklabels(ticklabels[j])
            if i == 3 and j % 2 == 0:
                ax.set_xticks(ticks[j])
                ax.set_xticklabels(ticklabels[j])
            if j == 0 and i % 2 == 1:
                ax.set_yticks(ticks[i])
                ax.set_yticklabels(ticklabels[i], rotation=90, va='center')
            if j == 3 and i % 2 == 0:
                ax.yaxis.set_ticks_position('right')
                ax.set_yticks(ticks[i])
                ax.set_yticklabels(ticklabels[i], rotation=90, va='center')
            ax.tick_params(direction='out', length=5, width=0.8, labelsize=8,
                           pad=5, colors='#222222')


fig = plt.figure(figsize=(W / 100, H / 100), dpi=100)

a_hists = [(a_mvnb_edges, a_mvnb_counts), (a_mnnb_edges, a_mnnb_counts),
           (a_wnb_edges, a_wnb_counts), (a_svm_edges, a_svm_counts)]
a_scatters = {(1, 0): a_mvnb_mnnb, (2, 0): a_mvnb_wnb, (2, 1): a_mnnb_wnb,
              (3, 0): a_mvnb_svm, (3, 1): a_mnnb_svm, (3, 2): a_wnb_svm}
b_hists = [(b_mvnb_edges, b_mvnb_counts), (b_mnnb_edges, b_mnnb_counts),
           (b_wnb_edges, b_wnb_counts), (b_svm_edges, b_svm_counts)]
b_scatters = {(1, 0): b_mvnb_mnnb, (2, 0): b_mvnb_wnb, (2, 1): b_mnnb_wnb,
              (3, 0): b_mvnb_svm, (3, 1): b_mnnb_svm, (3, 2): b_wnb_svm}

draw_matrix(fig, rows_a, a_lims, a_ticks, a_ticklabels, a_hists, a_hist_head, a_scatters, a_p, a_r)
draw_matrix(fig, rows_b, b_lims, b_ticks, b_ticklabels, b_hists, b_hist_head, b_scatters, b_p, b_r)

fig.text(21 / W, 1 - 37 / H, '(a)', ha='center', va='center', fontsize=15,
         fontweight='bold', family=['Liberation Serif', 'DejaVu Serif'])
fig.text(17 / W, 1 - 698 / H, '(b)', ha='center', va='center', fontsize=15,
         fontweight='bold', family=['Liberation Serif', 'DejaVu Serif'])

plt.savefig('out.png', dpi=100)
plt.close()
